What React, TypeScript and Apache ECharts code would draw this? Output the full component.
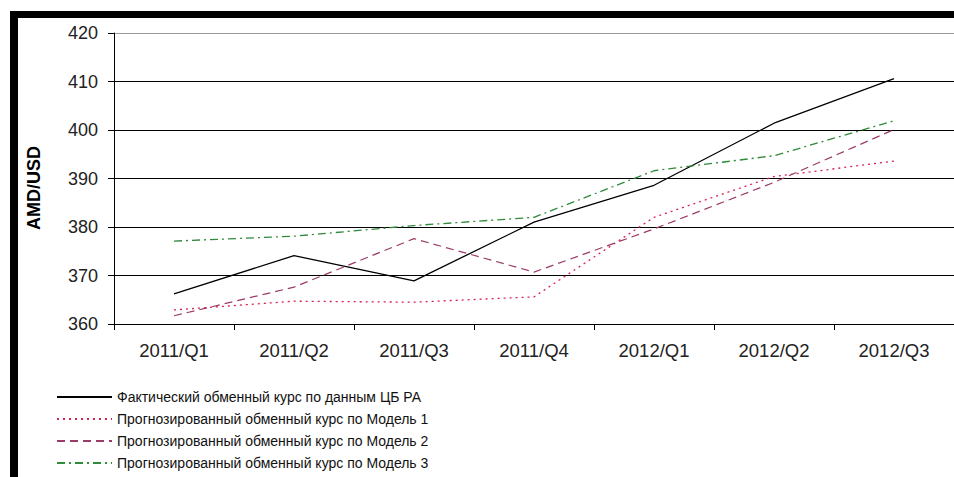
import React, { useEffect, useRef } from "react";
import * as echarts from "echarts";

const categories = ["2011/Q1", "2011/Q2", "2011/Q3", "2011/Q4", "2012/Q1", "2012/Q2", "2012/Q3"];
const actual = [366.2, 374.1, 368.9, 381.0, 388.6, 401.4, 410.6];
const model1 = [362.9, 364.7, 364.5, 365.6, 382.0, 390.4, 393.6];
const model2 = [361.7, 367.6, 377.6, 370.7, 379.6, 389.2, 400.1];
const model3 = [377.1, 378.1, 380.3, 382.0, 391.6, 394.7, 401.9];
const seriesNames = [
  "Фактический обменный курс по данным ЦБ РА",
  "Прогнозированный обменный курс по Модель 1",
  "Прогнозированный обменный курс по Модель 2",
  "Прогнозированный обменный курс по Модель 3",
];
const yTitle = "AMD/USD";

const FONT = "'Liberation Sans', Arial, sans-serif";

export default function App() {
  const ref = useRef<HTMLDivElement>(null);
  useEffect(() => {
    if (!ref.current) return;
    const chart = echarts.init(ref.current, undefined, { renderer: "svg" });
    const mk = (name: string, data: number[], color: string, type: any, width: number) => ({
      name,
      type: "line",
      data,
      symbol: "none",
      showSymbol: false,
      lineStyle: { color, type, width },
      itemStyle: { color },
    });
    chart.setOption({
      animation: false,
      backgroundColor: "#fff",
      textStyle: { fontFamily: FONT },
      grid: { left: 114, top: 33, height: 291, width: 847 },
      xAxis: {
        type: "category",
        data: categories,
        boundaryGap: true,
        axisLine: { lineStyle: { color: "#000", width: 1 } },
        axisTick: { show: true, interval: 0, length: 6, lineStyle: { color: "#000" } },
        axisLabel: { fontSize: 18.5, color: "#222", margin: 17, fontFamily: FONT, interval: 0 },
        splitLine: { show: false },
      },
      yAxis: {
        type: "value",
        min: 360,
        max: 420,
        interval: 10,
        axisLine: { show: true, lineStyle: { color: "#000", width: 1 } },
        axisTick: { show: true, length: 6, lineStyle: { color: "#000" } },
        axisLabel: { fontSize: 18, color: "#222", margin: 16, fontFamily: FONT },
        splitLine: {
          show: true,
          lineStyle: { color: ["#000", "#000", "#000", "#000", "#000", "#000", "#999"], width: 1 },
        },
      },
      legend: {
        orient: "vertical",
        left: 56,
        top: 390,
        padding: 0,
        itemWidth: 55,
        itemHeight: 14,
        itemGap: 8,
        itemStyle: { opacity: 0 },
        textStyle: { fontSize: 14, lineHeight: 14, color: "#111", fontFamily: FONT },
        data: seriesNames,
      },
      graphic: [
        { type: "rect", shape: { x: 10, y: 11, width: 944, height: 7 }, style: { fill: "#000" } },
        { type: "rect", shape: { x: 10, y: 11, width: 8, height: 466 }, style: { fill: "#000" } },
        {
          type: "text",
          x: 34,
          y: 188,
          rotation: Math.PI / 2,
          style: {
            text: yTitle,
            fontSize: 18,
            fontWeight: "bold",
            fill: "#000",
            fontFamily: FONT,
            align: "center",
            verticalAlign: "middle",
          },
        },
      ],
      series: [
        mk(seriesNames[0], actual, "#000000", "solid", 1.3),
        mk(seriesNames[1], model1, "#d8204f", [2, 4], 1.3),
        mk(seriesNames[2], model2, "#9c3a68", [8, 5], 1.2),
        mk(seriesNames[3], model3, "#2f8a3a", [8, 4, 2, 4], 1.3),
      ],
    });
    return () => chart.dispose();
  }, []);
  return (
    <div
      ref={ref}
      style={{ position: "fixed", left: 0, top: 0, width: 954, height: 477, background: "#fff" }}
    />
  );
}
